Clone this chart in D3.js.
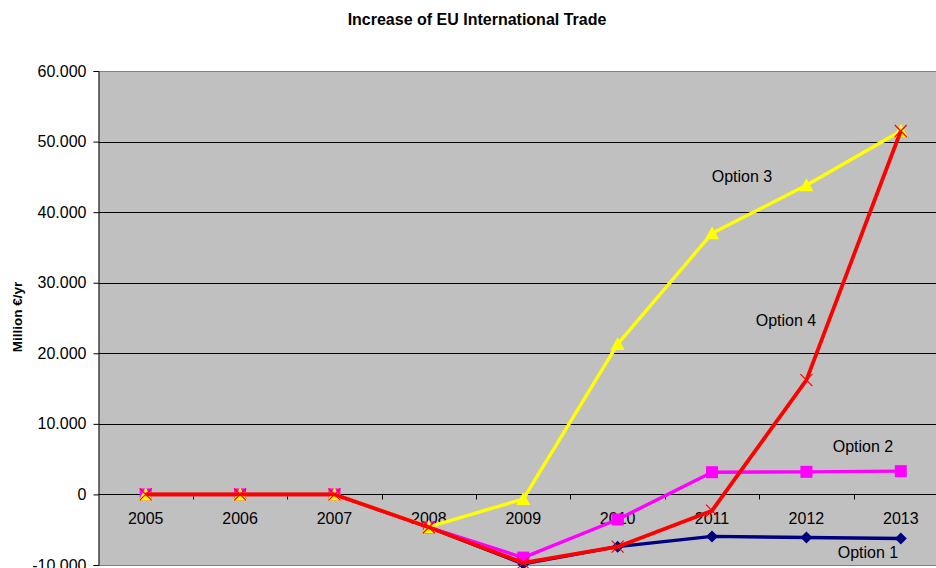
<!DOCTYPE html>
<html>
<head>
<meta charset="utf-8">
<script src="https://cdn.jsdelivr.net/npm/d3@7"></script>
<style>
  body { margin: 0; background: #fff; }
  svg { display: block; font-family: "Liberation Sans", Arial, sans-serif; }
</style>
</head>
<body>
<svg id="chart" width="936" height="568"></svg>
<script>
const years = ["2005", "2006", "2007", "2008", "2009", "2010", "2011", "2012", "2013"];
const option1 = [0, 0, 0, -4650, -9850, -7400, -5950, -6100, -6250];
const option2 = [0, 0, 0, -4650, -8950, -3550, 3150, 3200, 3300];
const option3 = [0, 0, 0, -4600, -650, 21300, 37000, 43800, 51500];
const option4 = [0, 0, 0, -4650, -9700, -7400, -2300, 16200, 51500];
const yTicks = [-10000, 0, 10000, 20000, 30000, 40000, 50000, 60000];

const series = [
  { name: "Option 1", values: option1, color: "#000080", marker: "diamond", label: [868, 554], width: 3.4 },
  { name: "Option 2", values: option2, color: "#FF00FF", marker: "square", label: [863, 448], width: 3.4 },
  { name: "Option 3", values: option3, color: "#FFFF00", marker: "triangle", label: [742, 178], width: 3.4 },
  { name: "Option 4", values: option4, color: "#FF0000", marker: "cross", label: [786, 322], width: 3.8 }
];

const svg = d3.select("#chart");
const plot = { left: 98.5, top: 71, right: 948, bottom: 565 };

const x = d3.scaleBand()
  .domain(years)
  .range([plot.left, plot.right]);

const y = d3.scaleLinear()
  .domain([-10000, 60000])
  .range([plot.bottom, plot.top]);

const locale = d3.formatLocale({ decimal: ",", thousands: ".", grouping: [3], currency: ["", "€"], minus: "-" });
const fmt = locale.format(",.0f");

// plot background
svg.append("rect")
  .attr("x", plot.left)
  .attr("y", plot.top)
  .attr("width", plot.right - plot.left)
  .attr("height", plot.bottom - plot.top)
  .attr("fill", "#C0C0C0");

// gridlines
svg.append("g")
  .selectAll("line")
  .data(yTicks)
  .enter()
  .append("line")
  .attr("x1", plot.left)
  .attr("x2", plot.right)
  .attr("y1", d => Math.round(y(d)) + 0.5)
  .attr("y2", d => Math.round(y(d)) + 0.5)
  .attr("stroke", d => (d === 60000 || d === -10000) ? "#808080" : "#000")
  .attr("stroke-width", 1);

// y axis
const yAxis = svg.append("g")
  .attr("transform", `translate(${plot.left},0)`)
  .call(d3.axisLeft(y).tickValues(yTicks).tickFormat(fmt).tickSize(5).tickPadding(7));
yAxis.select(".domain").attr("stroke", "#000");
yAxis.selectAll(".tick line").attr("stroke", "#000");
yAxis.selectAll("text").attr("font-size", 16).attr("fill", "#000").attr("font-family", "Liberation Sans, Arial, sans-serif");

// x axis at zero line
const zeroY = Math.round(y(0)) + 0.5;
const xAxis = svg.append("g")
  .attr("transform", `translate(0,${zeroY})`);
xAxis.append("line")
  .attr("x1", plot.left)
  .attr("x2", plot.right)
  .attr("stroke", "#000");
xAxis.selectAll(".xtick")
  .data(years.slice(1))
  .enter()
  .append("line")
  .attr("x1", d => Math.round(x(d)) + 0.5)
  .attr("x2", d => Math.round(x(d)) + 0.5)
  .attr("y1", 0)
  .attr("y2", 5)
  .attr("stroke", "#000");
xAxis.selectAll(".xlabel")
  .data(years)
  .enter()
  .append("text")
  .attr("x", d => x(d) + x.bandwidth() / 2)
  .attr("y", 29)
  .attr("text-anchor", "middle")
  .attr("font-size", 16)
  .text(d => d);

const cx = d => x(d) + x.bandwidth() / 2;

const line = d3.line()
  .x((d, i) => cx(years[i]))
  .y(d => y(d));

series.forEach(s => {
  const g = svg.append("g");

  g.append("path")
    .datum(s.values)
    .attr("d", line)
    .attr("fill", "none")
    .attr("stroke", s.color)
    .attr("stroke-width", s.width)
    .attr("stroke-linejoin", "round");

  const pts = g.selectAll(".pt")
    .data(s.values)
    .enter()
    .append("g")
    .attr("transform", (d, i) => `translate(${cx(years[i])},${y(d)})`);

  if (s.marker === "diamond") {
    pts.append("path").attr("d", "M0,-6L6,0L0,6L-6,0Z").attr("fill", s.color);
  } else if (s.marker === "square") {
    pts.append("rect").attr("x", -6).attr("y", -6).attr("width", 12).attr("height", 12).attr("fill", s.color);
  } else if (s.marker === "triangle") {
    pts.append("path").attr("d", "M0,-7L7,6L-7,6Z").attr("fill", s.color);
  } else {
    pts.append("path").attr("d", "M-6,-6L6,6M6,-6L-6,6").attr("stroke", s.color).attr("stroke-width", 1.2);
  }

  svg.append("text")
    .attr("x", s.label[0])
    .attr("y", s.label[1])
    .attr("text-anchor", "middle")
    .attr("dominant-baseline", "middle")
    .attr("font-size", 16)
    .text(s.name);
});

svg.append("text")
  .attr("x", 477)
  .attr("y", 25)
  .attr("text-anchor", "middle")
  .attr("font-size", 16)
  .attr("font-weight", "bold")
  .text("Increase of EU International Trade");

svg.append("text")
  .attr("transform", "translate(22,317) rotate(-90)")
  .attr("text-anchor", "middle")
  .attr("font-size", 13.5)
  .attr("font-weight", "bold")
  .text("Million €/yr");
</script>
</body>
</html>
